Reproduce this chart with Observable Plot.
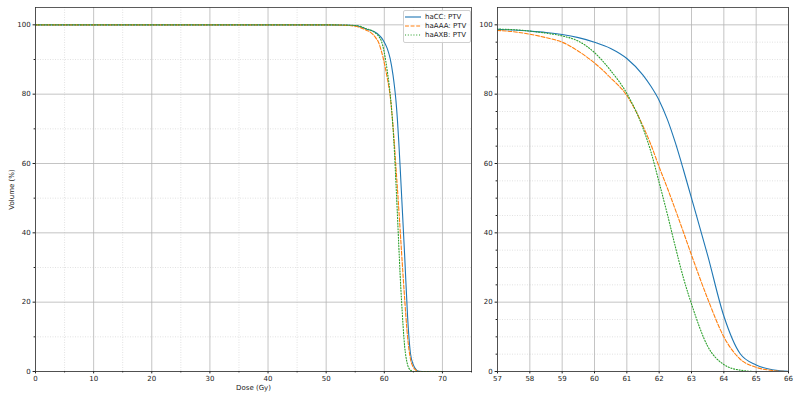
<!DOCTYPE html>
<html>
<head>
<meta charset="utf-8">
<script src="https://cdn.jsdelivr.net/npm/d3@7"></script>
<script src="https://cdn.jsdelivr.net/npm/@observablehq/plot@0.6"></script>
<style>
  body { margin: 0; background: white; font-family: "DejaVu Sans", sans-serif; }
  #wrap { position: relative; width: 800px; height: 400px; overflow: hidden; }
  #wrap svg { position: absolute; top: 0; }
  #legend { position: absolute; left: 403px; top: 10px; width: 66px; height: 31px;
    border: 1px solid #d0d0d0; border-radius: 2px; background: rgba(255,255,255,0.85);
    font-size: 7px; color: #222; }
  .row { position: absolute; left: 0; height: 9px; display: flex; align-items: center; }
  .row svg { position: static !important; margin-left: 1px; }
  .row span { margin-left: 4px; white-space: nowrap; }
</style>
</head>
<body>
<div id="wrap"></div>
<script>
// ---- data ----
const dose  = [0, 10, 20, 30, 40, 50, 54, 55, 56, 57, 57.5, 58, 58.5, 59, 59.5, 60, 60.5, 61, 61.5, 61.75, 62, 62.25, 62.5, 62.75, 63, 63.5, 64, 64.5, 65, 65.5, 66, 67, 70];
const haCC  = [100, 100, 100, 100, 100, 100, 99.9, 99.8, 99.4, 98.7, 98.5, 98.2, 97.8, 97.2, 96.3, 95.0, 93.2, 90.3, 85.5, 82.2, 78.2, 72.8, 66, 58.2, 50, 33.5, 16, 5.2, 1.9, 0.5, 0.05, 0, 0];
const haAAA = [100, 100, 100, 100, 100, 100, 99.8, 99.6, 99.1, 98.4, 98.0, 97.3, 96.3, 95.0, 92.4, 89, 84.7, 79.6, 70.8, 65.3, 59, 53, 46.7, 40.2, 33.6, 21, 10, 3.6, 1.2, 0.3, 0, 0, 0];
const haAXB = [100, 100, 100, 100, 100, 100, 99.9, 99.8, 99.5, 98.8, 98.6, 98.2, 97.6, 96.8, 95.3, 92, 86.8, 80.2, 70.2, 63.2, 54.5, 45.5, 36, 27, 19.5, 7.3, 2, 0.4, 0, 0, 0, 0, 0];
const seriesNames = ["haCC: PTV", "haAAA: PTV", "haAXB: PTV"];
const seriesColors = ["#1f77b4", "#ff7f0e", "#2ca02c"];
const seriesDash = [null, "3.9,1.7", "1.05,1.75"];
const leftXTicks = [0, 10, 20, 30, 40, 50, 60, 70];
const leftXMinor = [5, 15, 25, 35, 45, 55, 65, 75];
const yTicks = [0, 20, 40, 60, 80, 100];
const leftYMinor = [10, 30, 50, 70, 90];
const rightXTicks = [57, 58, 59, 60, 61, 62, 63, 64, 65, 66];
const rightYMinor = [5, 10, 15, 25, 30, 35, 45, 50, 55, 65, 70, 75, 85, 90, 95];

const seriesValues = [haCC, haAAA, haAXB];
const rows = seriesValues.map((vals, s) => dose.map((d, i) => ({dose: d, vol: vals[i], s})));

const style = {fontSize: "7px", fontFamily: "DejaVu Sans", color: "#222", background: "transparent", overflow: "visible"};
const majorGrid = {stroke: "#b5b5b5", strokeOpacity: 1, strokeWidth: 0.8};
const minorGrid = {stroke: "#cfcfcf", strokeOpacity: 1, strokeWidth: 0.6, strokeDasharray: "1,1.5"};

function lines(clip) {
  return rows.map((r, s) => Plot.line(r, {x: "dose", y: "vol", stroke: seriesColors[s], strokeWidth: 1.1,
    strokeDasharray: seriesDash[s] || undefined, curve: "monotone-x", clip}));
}

const left = Plot.plot({
  width: 480, height: 400,
  marginLeft: 35, marginRight: 9, marginTop: 7, marginBottom: 29,
  style,
  x: {domain: [0, 75], label: null},
  y: {domain: [0, 105], label: null},
  marks: [
    Plot.gridX(leftXMinor.filter(v => v < 75), minorGrid),
    Plot.gridY(leftYMinor, minorGrid),
    Plot.gridX(leftXTicks, majorGrid),
    Plot.gridY(yTicks, majorGrid),
    ...lines(false),
    Plot.axisX(leftXTicks, {tickSize: 2.4, tickPadding: 2.4, label: null}),
    Plot.axisX(leftXMinor, {tickSize: 1.4, tickFormat: () => "", label: null}),
    Plot.axisY(yTicks, {tickSize: 2.4, tickPadding: 2.4, label: null}),
    Plot.axisY(leftYMinor, {tickSize: 1.4, tickFormat: () => "", label: null}),
    Plot.text(["Dose (Gy)"], {frameAnchor: "bottom", lineAnchor: "top", dy: 14, fill: "#222"}),
    Plot.text(["Volume (%)"], {frameAnchor: "left", rotate: -90, dx: -24, textAnchor: "middle", lineAnchor: "middle", fill: "#222"}),
    Plot.frame({stroke: "#333", strokeWidth: 0.8})
  ]
});
left.style.left = "0px";

const right = Plot.plot({
  width: 340, height: 400,
  marginLeft: 37, marginRight: 12, marginTop: 7, marginBottom: 29,
  style,
  x: {domain: [57, 66], label: null},
  y: {domain: [0, 105], label: null},
  marks: [
    Plot.gridY(rightYMinor, minorGrid),
    Plot.gridX(rightXTicks, majorGrid),
    Plot.gridY(yTicks, majorGrid),
    ...lines(true),
    Plot.axisX(rightXTicks, {tickSize: 2.4, tickPadding: 2.4, label: null}),
    Plot.axisY(yTicks, {tickSize: 2.4, tickPadding: 2.4, label: null}),
    Plot.axisY(rightYMinor, {tickSize: 1.4, tickFormat: () => "", label: null}),
    Plot.frame({stroke: "#333", strokeWidth: 0.8})
  ]
});
right.style.left = "460px";

const wrap = document.getElementById("wrap");
wrap.append(left, right);

// legend
const leg = document.createElement("div");
leg.id = "legend";
seriesNames.forEach((name, s) => {
  const row = document.createElement("div");
  row.className = "row";
  row.style.top = (1 + s * 9.3) + "px";
  const dash = seriesDash[s] ? `stroke-dasharray="${seriesDash[s]}"` : "";
  row.innerHTML = `<svg width="16" height="6"><line x1="0" x2="16" y1="3" y2="3" stroke="${seriesColors[s]}" stroke-width="1.1" ${dash}/></svg><span>${name}</span>`;
  leg.append(row);
});
wrap.append(leg);
</script>
</body>
</html>
